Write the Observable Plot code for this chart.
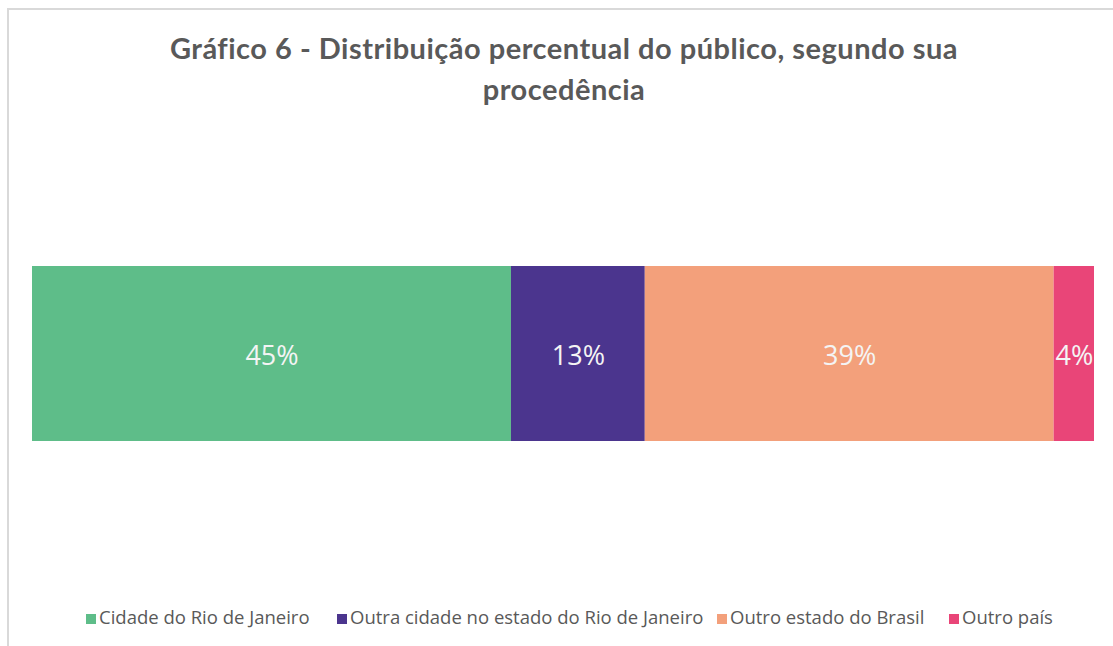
<!DOCTYPE html>
<html>
<head>
<meta charset="utf-8">
<script src="https://cdn.jsdelivr.net/npm/d3@7"></script>
<script src="https://cdn.jsdelivr.net/npm/@observablehq/plot@0.6"></script>
<style>
  html, body { margin: 0; padding: 0; background: #fff; width: 1113px; height: 646px; overflow: hidden; }
  #frame { position: absolute; left: 7px; top: 8px; width: 1120px; height: 660px; border: 2px solid #d9d9d9; box-sizing: border-box; }
  #title { position: absolute; left: 0; top: 27px; width: 1128px; text-align: center; font-family: Lato, sans-serif; font-weight: bold; font-size: 29px; letter-spacing: 0.5px; line-height: 41px; color: #595959; }
  #chart { position: absolute; left: 0; top: 0; }
  #legend { position: absolute; left: 0; top: 0; font-family: "Open Sans", sans-serif; font-size: 18.5px; color: #595959; white-space: nowrap; }
  #legend .item { position: absolute; top: 603px; line-height: 27px; }
  #legend .sw { display: inline-block; width: 10px; height: 10px; margin-right: 3px; vertical-align: 0px; }
</style>
</head>
<body>
<div id="frame"></div>
<div id="title">Gráfico 6 - Distribuição percentual do público, segundo sua<br>procedência</div>
<div id="chart"></div>
<div id="legend"></div>
<script>
const categories = ["Cidade do Rio de Janeiro", "Outra cidade no estado do Rio de Janeiro", "Outro estado do Brasil", "Outro país"];
const values = [45.1, 12.6, 38.5, 3.8];
const labels = ["45%", "13%", "39%", "4%"];
const colors = ["#5ebd89", "#4b358e", "#f3a07b", "#e94578"];
const legendX = [86, 337, 717, 949];

const data = categories.map((c, i) => ({category: c, value: values[i], label: labels[i], row: "Procedência"}));

const chart = Plot.plot({
  width: 1113,
  height: 646,
  marginLeft: 32,
  marginRight: 19,
  marginTop: 266,
  marginBottom: 205,
  x: {domain: [0, 100], axis: null},
  y: {domain: ["Procedência"], axis: null, padding: 0},
  color: {domain: categories, range: colors},
  marks: [
    Plot.barX(data, Plot.stackX({x: "value", y: "row", fill: "category", order: null})),
    Plot.text(data, Plot.stackX({x: "value", y: "row", text: "label", order: null, fill: "#f4f4f4", fontSize: 27, fontFamily: "'Open Sans', sans-serif", dy: 2}))
  ]
});
chart.style.background = "transparent";
document.getElementById("chart").appendChild(chart);

const legend = document.getElementById("legend");
categories.forEach((c, i) => {
  const item = document.createElement("div");
  item.className = "item";
  item.style.left = legendX[i] + "px";
  const sw = document.createElement("span");
  sw.className = "sw";
  sw.style.background = colors[i];
  item.appendChild(sw);
  item.appendChild(document.createTextNode(c));
  legend.appendChild(item);
});
</script>
</body>
</html>
